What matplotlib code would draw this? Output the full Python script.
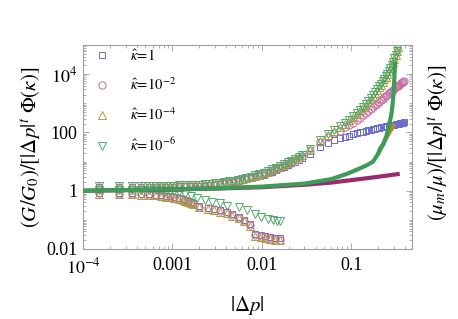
import matplotlib
matplotlib.use("Agg")
import matplotlib.pyplot as plt
from matplotlib.ticker import LogLocator, NullFormatter, FixedLocator

plt.rcParams['font.family'] = ['Liberation Serif', 'DejaVu Serif']
plt.rcParams['mathtext.fontset'] = 'stix'

# ---------------- data ----------------
legend_labels = [r'$\hat{\kappa}\!=\!1$', r'$\hat{\kappa}\!=\!10^{-2}$',
                 r'$\hat{\kappa}\!=\!10^{-4}$', r'$\hat{\kappa}\!=\!10^{-6}$']

# lower branch (G/G0)
x_low = [0.00015, 0.00025, 0.00035, 0.00045, 0.00055, 0.00065, 0.00075, 0.00085,
         0.00095, 0.00105, 0.0012, 0.0013, 0.0014, 0.0015, 0.0016, 0.0017, 0.002,
         0.0025, 0.0029, 0.0034, 0.0041, 0.0047, 0.0055, 0.0063, 0.0074, 0.0085,
         0.0097, 0.011, 0.0125, 0.014, 0.016]
sq_low = [0.85, 0.84, 0.82, 0.8, 0.77, 0.74, 0.71, 0.68, 0.65, 0.62, 0.57, 0.53, 0.49,
          0.45, 0.41, 0.37, 0.3, 0.26, 0.24, 0.21, 0.19, 0.16, 0.13, 0.1, 0.07, 0.033,
          0.03, 0.027, 0.025, 0.024, 0.023]
ci_low = [0.82, 0.8, 0.79, 0.77, 0.74, 0.71, 0.68, 0.65, 0.62, 0.6, 0.55, 0.51, 0.47,
          0.43, 0.39, 0.36, 0.28, 0.25, 0.23, 0.2, 0.18, 0.15, 0.12, 0.095, 0.066, 0.03,
          0.027, 0.025, 0.023, 0.022, 0.021]
tu_low = [0.78, 0.77, 0.76, 0.74, 0.72, 0.69, 0.66, 0.63, 0.6, 0.58, 0.53, 0.49, 0.46,
          0.42, 0.38, 0.35, 0.27, 0.24, 0.22, 0.19, 0.17, 0.14, 0.115, 0.09, 0.062, 0.029,
          0.026, 0.024, 0.022, 0.021, 0.02]
x_low_d = [0.00015, 0.00025, 0.00035, 0.00045, 0.00055, 0.00065, 0.00075, 0.00085,
           0.00095, 0.00105, 0.0012, 0.0014, 0.0016, 0.0019, 0.0023, 0.0028, 0.0034,
           0.0041, 0.0055, 0.0069, 0.0085, 0.0097, 0.0116, 0.0132, 0.015, 0.016]
td_low = [1.1, 1.1, 1.08, 1.07, 1.06, 1.05, 1.03, 1.0, 0.98, 0.95, 0.9, 0.8, 0.68, 0.58,
          0.49, 0.42, 0.38, 0.31, 0.28, 0.21, 0.16, 0.13, 0.11, 0.1, 0.095, 0.093]

# upper branch (mu_m/mu), first segment
x_up1 = [0.00015, 0.00025, 0.00035, 0.00045, 0.00055, 0.00065, 0.00075, 0.00085,
         0.00095, 0.00105, 0.0012, 0.0014, 0.0016, 0.0018, 0.002, 0.0023, 0.0026,
         0.003, 0.0034, 0.0038, 0.0043, 0.0048, 0.0054, 0.006, 0.0067, 0.0075, 0.0084,
         0.0094, 0.0105, 0.0118, 0.013, 0.0145, 0.016, 0.0178, 0.0196, 0.0215, 0.0235,
         0.0258, 0.028]
sq_up1 = [1.35, 1.35, 1.36, 1.36, 1.37, 1.37, 1.38, 1.38, 1.39, 1.39, 1.4, 1.4, 1.42,
          1.44, 1.46, 1.5, 1.55, 1.62, 1.7, 1.78, 1.88, 1.98, 2.1, 2.25, 2.45, 2.65, 2.9,
          3.2, 3.55, 4.0, 4.5, 5.1, 5.8, 6.6, 7.5, 8.6, 9.8, 11.5, 13.5]
ci_up1 = [1.3, 1.3, 1.31, 1.32, 1.33, 1.34, 1.35, 1.36, 1.37, 1.38, 1.4, 1.42, 1.44,
          1.47, 1.5, 1.55, 1.6, 1.68, 1.76, 1.85, 1.96, 2.08, 2.22, 2.38, 2.6, 2.85, 3.15,
          3.5, 3.9, 4.4, 5.0, 5.7, 6.5, 7.5, 8.6, 10, 11.5, 13.5, 16]
tu_up1 = [1.25, 1.26, 1.27, 1.28, 1.29, 1.3, 1.31, 1.32, 1.33, 1.35, 1.37, 1.4, 1.43,
          1.46, 1.5, 1.56, 1.62, 1.7, 1.79, 1.88, 2.0, 2.12, 2.27, 2.44, 2.66, 2.92, 3.22,
          3.6, 4.0, 4.55, 5.15, 5.9, 6.75, 7.8, 9.0, 10.4, 12, 14, 16.5]
td_up1 = [1.45, 1.45, 1.46, 1.46, 1.47, 1.47, 1.48, 1.48, 1.49, 1.5, 1.51, 1.53, 1.55,
          1.58, 1.62, 1.67, 1.72, 1.8, 1.89, 1.98, 2.1, 2.22, 2.37, 2.55, 2.78, 3.05, 3.36,
          3.75, 4.2, 4.75, 5.4, 6.15, 7.0, 8.1, 9.3, 10.8, 12.5, 14.5, 17]

# upper branch, second segment
x_up2 = [0.035, 0.045, 0.055, 0.065, 0.075, 0.085, 0.095, 0.105, 0.115, 0.125, 0.135,
         0.145, 0.155, 0.165, 0.175, 0.185, 0.195, 0.205, 0.215, 0.225, 0.235, 0.245,
         0.255, 0.265, 0.275, 0.285, 0.295, 0.305, 0.315, 0.325, 0.335, 0.345, 0.355,
         0.365, 0.375, 0.385, 0.395]
sq_up2 = [18, 32, 45, 55, 62, 68, 75, 85, 92, 100, 106, 112, 118, 124, 130, 135, 140,
          145, 150, 154, 158, 162, 166, 170, 174, 178, 182, 186, 190, 194, 198, 202, 206,
          210, 214, 218, 222]
ci_up2 = [25, 46, 70, 92, 115, 150, 180, 215, 260, 320, 390, 460, 540, 640, 740, 850,
          980, 1120, 1280, 1440, 1620, 1800, 2000, 2200, 2450, 2700, 2950, 3200, 3500,
          3800, 4050, 4300, 4600, 4900, 5200, 5500, 5750]
tu_up2 = [25, 52, 82, 115, 150, 200, 260, 340, 440, 570, 720, 900, 1150, 1450, 1800,
          2300, 2900, 3600, 4400, 5400, 6600, 8000, 10000, 12500, 16000, 20000, 26000,
          34000, 45000, 60000, 85000]
td_up2 = [28, 56, 88, 122, 160, 212, 275, 360, 465, 600, 760, 950, 1210, 1520, 1900,
          2420, 3050, 3780, 4620, 5650, 6900, 8400, 10500, 13000, 16500, 21000, 27000,
          36000, 47000, 63000, 88000]

# theory curves
x_mag = [1e-4, 3e-4, 1e-3, 3e-3, 0.01, 0.03, 0.06, 0.1, 0.2, 0.35]
y_mag = [1.0, 1.05, 1.1, 1.18, 1.32, 1.6, 1.9, 2.3, 3.0, 3.8]
x_olv = [0.2, 0.23, 0.25, 0.27, 0.29, 0.31]
y_olv = [18, 42, 68, 105, 145, 190]
x_grn = [1e-4, 3e-4, 1e-3, 3e-3, 0.01, 0.03, 0.06, 0.09, 0.12, 0.15, 0.176, 0.2, 0.21,
         0.23, 0.25, 0.26, 0.27, 0.28, 0.29, 0.295, 0.3, 0.305, 0.31]
y_grn = [1.0, 1.05, 1.11, 1.2, 1.38, 1.75, 2.5, 3.8, 5.5, 7.5, 10, 18, 27, 40, 80, 130,
         220, 370, 800, 1400, 3000, 8000, 26000]

xticks = [1e-4, 1e-3, 1e-2, 1e-1]
xticklabels = [r'$10^{-4}$', '0.001', '0.01', '0.1']
yticks = [1e-2, 1, 1e2, 1e4]
yticklabels = ['0.01', '1', '100', r'$10^{4}$']

# ---------------- style ----------------
c_sq = '#6c6cd0'
c_ci = '#c66aa0'
c_tu = '#b09a48'
c_td = '#50aa6c'
c_mag = '#9a2a6c'
c_olv = '#a89030'
c_grn = '#3c9c58'
gray = '#a0a0a0'

fig = plt.figure(figsize=(4.58, 3.19), dpi=100)
ax = fig.add_axes([83/458, 1-249/319, (412-83)/458, (249-45)/319])
ax.set_xscale('log')
ax.set_yscale('log')

mk = dict(linestyle='none', markerfacecolor='none', markeredgewidth=0.7)
series = [
    ('s', c_sq, 4.8, [(x_low, sq_low), (x_up1, sq_up1), (x_up2, sq_up2)]),
    ('o', c_ci, 5.2, [(x_low, ci_low), (x_up1, ci_up1), (x_up2, ci_up2)]),
    ('^', c_tu, 5.6, [(x_low, tu_low), (x_up1, tu_up1), (x_up2[:len(tu_up2)], tu_up2)]),
    ('v', c_td, 5.6, [(x_low_d, td_low), (x_up1, td_up1), (x_up2[:len(td_up2)], td_up2)]),
]
handles = []
for (m, c, ms, parts), lab in zip(series, legend_labels):
    for i, (xx, yy) in enumerate(parts):
        h, = ax.plot(xx, yy, marker=m, markeredgecolor=c, markersize=ms, **mk)
        if i == 0:
            handles.append(h)

ax.plot(x_mag, y_mag, color=c_mag, lw=3, solid_capstyle='butt', zorder=5)
ax.plot(x_olv, y_olv, color=c_olv, lw=3, solid_capstyle='butt', zorder=5)
ax.plot(x_grn, y_grn, color=c_grn, lw=3, solid_capstyle='butt', zorder=6)

ax.set_xlim(1e-4, 0.48)
ax.set_ylim(1e-2, 1e5)

ax.xaxis.set_major_locator(FixedLocator(xticks))
ax.set_xticklabels(xticklabels)
ax.yaxis.set_major_locator(FixedLocator(yticks))
ax.set_yticklabels(yticklabels)
ax.xaxis.set_minor_locator(LogLocator(base=10, subs=range(2, 10), numticks=20))
ax.yaxis.set_minor_locator(LogLocator(base=10, subs=range(1, 10), numticks=20))
ax.xaxis.set_minor_formatter(NullFormatter())
ax.yaxis.set_minor_formatter(NullFormatter())

ax.tick_params(which='both', direction='in', top=True, right=True, color=gray,
               labelsize=13, width=0.6)
ax.tick_params(which='major', length=4, pad=4)
ax.tick_params(axis='x', which='major', pad=6)
ax.tick_params(which='minor', length=2)
for s in ax.spines.values():
    s.set_color(gray)
    s.set_linewidth(0.8)

ax.set_xlabel(r'$|\Delta p|$', fontsize=15, labelpad=12)
ax.set_ylabel(r'$(G/G_0)/[|\Delta p|^t\ \Phi(\kappa)]$', fontsize=15, labelpad=2)
fig.text(438/458, 1-143/319, r'$(\mu_m/\mu)/[|\Delta p|^t\ \Phi(\kappa)]$', fontsize=15,
         rotation=90, ha='center', va='center')

ax.legend(handles, legend_labels, loc='upper left', bbox_to_anchor=(0.036, 0.984),
          frameon=False, fontsize=10.5, handlelength=1.0, handletextpad=1.4,
          labelspacing=0.9, borderpad=0, borderaxespad=0)

fig.savefig('out.png', dpi=100)
